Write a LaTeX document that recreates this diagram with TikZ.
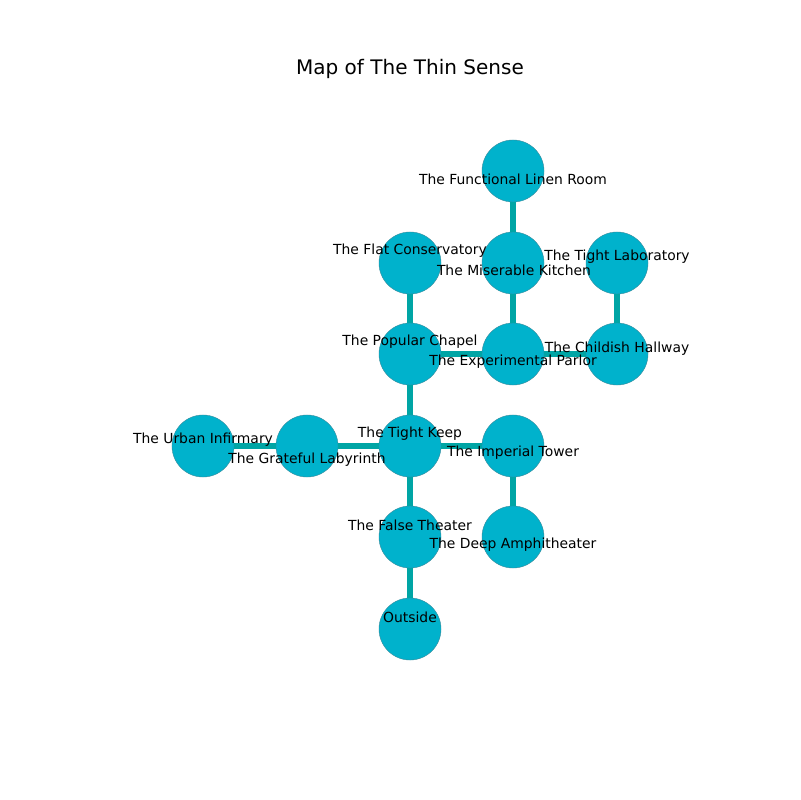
\documentclass[tikz,border=0pt]{standalone}
\usepackage{fontspec}
\setmainfont{DejaVu Sans}
\definecolor{roomfill}{HTML}{00B2CC}
\definecolor{roomedge}{HTML}{3A8A9A}
\definecolor{pathcol}{HTML}{00A5A5}
\begin{document}
\begin{tikzpicture}[x=0.01in,y=-0.01in,
  room/.style={circle,fill=roomfill,draw=roomedge,line width=0.3pt,minimum size=0.62in,inner sep=0pt},
  path/.style={draw=pathcol,line width=4pt},
  lbl/.style={font=\fontsize{10bp}{12bp}\selectfont,inner sep=0pt,anchor=center}]
\useasboundingbox (0,0) rectangle (800,800);
\node[font=\fontsize{14.4bp}{16bp}\selectfont] (title) at (410,69) {Map of The Thin Sense};
% rooms
\node[room] (linen) at (513,171) {};
\node[room] (cons) at (410,263) {};
\node[room] (kitch) at (513,263) {};
\node[room] (lab) at (617,263) {};
\node[room] (chap) at (410,354) {};
\node[room] (parl) at (513,354) {};
\node[room] (hall) at (617,354) {};
\node[room] (infi) at (203,446) {};
\node[room] (laby) at (307,446) {};
\node[room] (keep) at (410,446) {};
\node[room] (tower) at (513,446) {};
\node[room] (theat) at (410,537) {};
\node[room] (amph) at (513,537) {};
\node[room] (out) at (410,629) {};
% paths
\draw[path] (linen) -- (kitch);
\draw[path] (kitch) -- (parl);
\draw[path] (lab) -- (hall);
\draw[path] (cons) -- (chap);
\draw[path] (chap) -- (parl);
\draw[path] (parl) -- (hall);
\draw[path] (chap) -- (keep);
\draw[path] (infi) -- (laby);
\draw[path] (laby) -- (keep);
\draw[path] (keep) -- (tower);
\draw[path] (tower) -- (amph);
\draw[path] (keep) -- (theat);
\draw[path] (theat) -- (out);
% labels
\node[lbl] (tlinen) at (513,179) {The Functional Linen Room};
\node[lbl] (tcons) at (410,251) {The Flat Conservatory};
\node[lbl] (tkitch) at (514,270) {The Miserable Kitchen};
\node[lbl] (tlab) at (617,257) {The Tight Laboratory};
\node[lbl] (tchap) at (410,342) {The Popular Chapel};
\node[lbl] (tparl) at (513,362) {The Experimental Parlor};
\node[lbl] (thall) at (617,349) {The Childish Hallway};
\node[lbl] (tinfi) at (203,440) {The Urban Infirmary};
\node[lbl] (tlaby) at (307,460) {The Grateful Labyrinth};
\node[lbl] (tkeep) at (410,434) {The Tight Keep};
\node[lbl] (ttower) at (513,453) {The Imperial Tower};
\node[lbl] (ttheat) at (410,525) {The False Theater};
\node[lbl] (tamph) at (513,545) {The Deep Amphitheater};
\node[lbl] (tout) at (410,617) {Outside};
\end{tikzpicture}
\end{document}
